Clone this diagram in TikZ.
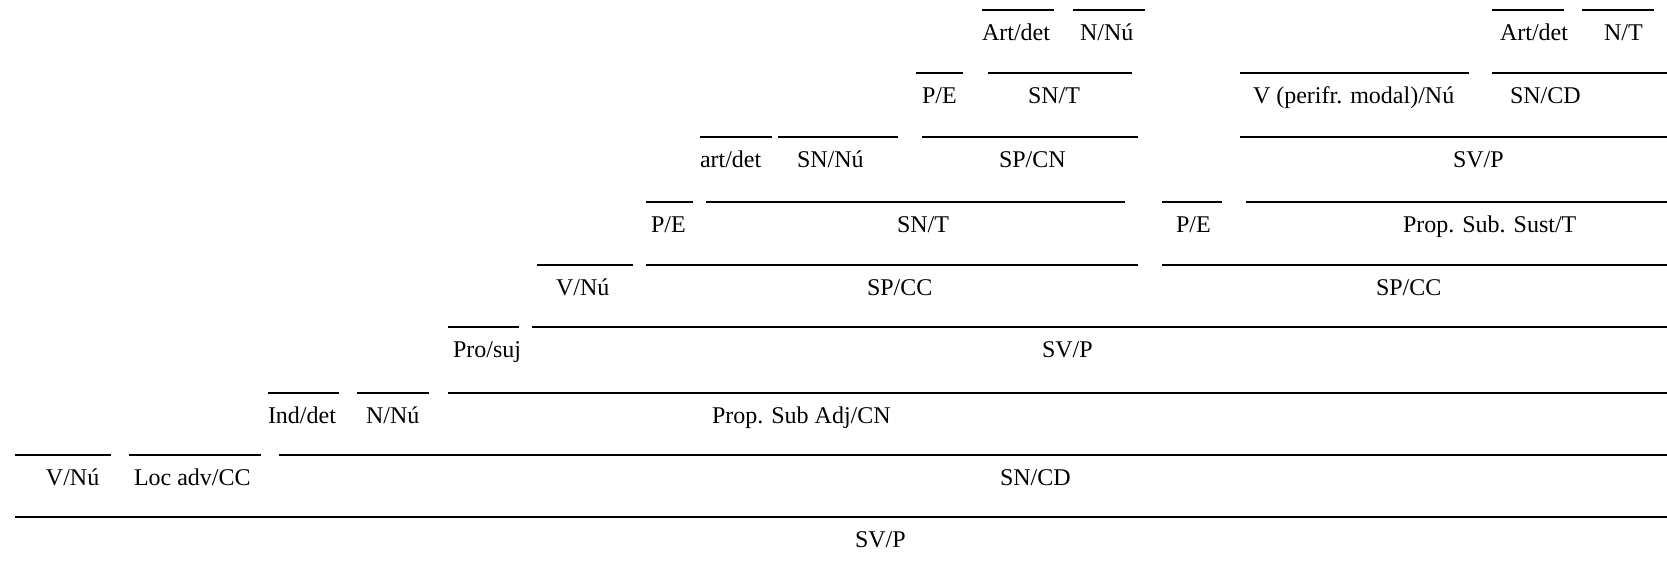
\documentclass[tikz,border=0pt]{standalone}
\usepackage{fontspec}
\setmainfont{Liberation Serif}
\tikzset{
  ul/.style={line width=0.75pt},
  lbl/.style={anchor=base west, inner sep=0pt, outer sep=0pt, font=\fontsize{12pt}{14pt}\selectfont}
}
\begin{document}
\begin{tikzpicture}[x=0.5pt,y=-0.5pt]
\useasboundingbox (0,0) rectangle (1667,582);
\clip (0,0) rectangle (1667,582);
% Row A
\draw[ul] (982,10) -- (1054,10);
\draw[ul] (1073,10) -- (1145,10);
\draw[ul] (1492,10) -- (1564,10);
\draw[ul] (1582,10) -- (1654,10);
\node[lbl] (a1) at (982,41) {Art/det};
\node[lbl] (a2) at (1080,41) {N/Nú};
\node[lbl] (a3) at (1500,41) {Art/det};
\node[lbl] (a4) at (1604,41) {N/T};
% Row B
\draw[ul] (916,73) -- (963,73);
\draw[ul] (988,73) -- (1132,73);
\draw[ul] (1240,73) -- (1469,73);
\draw[ul] (1492,73) -- (1667,73);
\node[lbl] (b1) at (922,104) {P/E};
\node[lbl] (b2) at (1028,104) {SN/T};
\node[lbl] (b3) at (1253,104) {V (perifr. modal)/Nú};
\node[lbl] (b4) at (1510,104) {SN/CD};
% Row C
\draw[ul] (700,137) -- (772,137);
\draw[ul] (778,137) -- (898,137);
\draw[ul] (922,137) -- (1138,137);
\draw[ul] (1240,137) -- (1667,137);
\node[lbl] (c1) at (700,168) {art/det};
\node[lbl] (c2) at (797,168) {SN/Nú};
\node[lbl] (c3) at (999,168) {SP/CN};
\node[lbl] (c4) at (1453,168) {SV/P};
% Row D
\draw[ul] (646,202) -- (693,202);
\draw[ul] (706,202) -- (1125,202);
\draw[ul] (1162,202) -- (1222,202);
\draw[ul] (1246,202) -- (1667,202);
\node[lbl] (d1) at (651,233) {P/E};
\node[lbl] (d2) at (897,233) {SN/T};
\node[lbl] (d3) at (1176,233) {P/E};
\node[lbl] (d4) at (1403,233) {Prop. Sub. Sust/T};
% Row E
\draw[ul] (537,265) -- (633,265);
\draw[ul] (646,265) -- (1138,265);
\draw[ul] (1162,265) -- (1667,265);
\node[lbl] (e1) at (556,296) {V/Nú};
\node[lbl] (e2) at (867,296) {SP/CC};
\node[lbl] (e3) at (1376,296) {SP/CC};
% Row F
\draw[ul] (448,327) -- (519,327);
\draw[ul] (532,327) -- (1667,327);
\node[lbl] (f1) at (453,358) {Pro/suj};
\node[lbl] (f2) at (1042,358) {SV/P};
% Row G
\draw[ul] (268,393) -- (339,393);
\draw[ul] (357,393) -- (429,393);
\draw[ul] (448,393) -- (1667,393);
\node[lbl] (g1) at (268,424) {Ind/det};
\node[lbl] (g2) at (366,424) {N/Nú};
\node[lbl] (g3) at (712,424) {Prop. Sub Adj/CN};
% Row H
\draw[ul] (15,455) -- (111,455);
\draw[ul] (129,455) -- (261,455);
\draw[ul] (279,455) -- (1667,455);
\node[lbl] (h1) at (46,486) {V/Nú};
\node[lbl] (h2) at (134,486) {Loc adv/CC};
\node[lbl] (h3) at (1000,486) {SN/CD};
% Row I
\draw[ul] (15,517) -- (1667,517);
\node[lbl] (i1) at (855,548) {SV/P};
\end{tikzpicture}
\end{document}
